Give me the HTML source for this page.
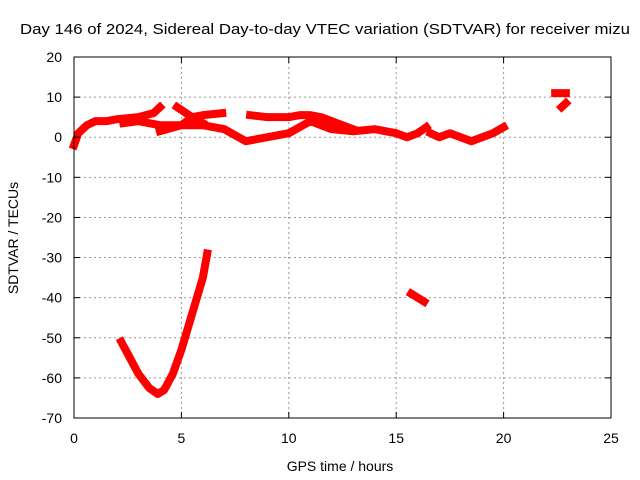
<!DOCTYPE html>
<html><head><meta charset="utf-8"><style>
body{margin:0;background:#fff}
svg{display:block;font-family:"Liberation Sans",sans-serif}
</style></head><body>
<svg id="chart" width="640" height="480">
<rect width="640" height="480" fill="#fff"/>
<g id="grid"></g>
<g id="series"></g>
<rect x="74" y="57" width="537" height="361" fill="none" stroke="#000" stroke-width="1"/>
<g id="ticks"></g>
<text x="20" y="34" textLength="610" lengthAdjust="spacingAndGlyphs" font-size="15">Day 146 of 2024, Sidereal Day-to-day VTEC variation (SDTVAR) for receiver mizu</text>
<text x="340" y="471" text-anchor="middle" font-size="14">GPS time / hours</text>
<text transform="translate(18,238) rotate(-90)" text-anchor="middle" font-size="14">SDTVAR / TECUs</text>
</svg>
<script>
const xTicks=[0,5,10,15,20,25];
const yTicks=[20,10,0,-10,-20,-30,-40,-50,-60,-70];
const seg1=[[0,-2],[0.2,1],[0.6,3],[1,4],[1.5,4],[2,4.5],[3,5],[3.7,6],[4,7.5]];
const seg2=[[2.3,3.5],[3,4],[4,3],[5,3],[6,3],[7,2],[7.5,0.5],[8,-1],[8.5,-0.5],[9,0],[10,1],[10.5,2.5],[11,4],[12,2],[13,1.5],[14,2],[15,1],[15.5,0],[16,1],[16.4,2.5]];
const seg3=[[4,1.5],[5,3],[5.5,5],[6,5.5],[6.9,6]];
const seg4=[[8.2,5.5],[9,5],[10,5],[10.5,5.5],[11,5.5],[11.5,5],[12.5,3],[13,2]];
const seg5=[[4.8,7.5],[5.5,5],[6,3.5]];
const seg6=[[16.6,1],[17,0],[17.5,1],[18,0],[18.5,-1],[19,0],[19.5,1],[20,2.5]];
const seg7=[[22.4,11],[22.9,11]];
const seg8=[[22.7,7.5],[22.9,8.5]];
const seg9=[[2.2,-51],[2.5,-54],[3,-59],[3.5,-62.5],[3.9,-64],[4.2,-63],[4.6,-59],[5,-53],[5.5,-44],[6,-35],[6.2,-29]];
const seg10=[[15.7,-39],[16.3,-41]];
const segments=[seg1,seg2,seg3,seg4,seg5,seg6,seg7,seg8,seg9,seg10];
const X=h=>74+h*537/25;
const Y=v=>57+(20-v)*361/90;
const NS='http://www.w3.org/2000/svg';
const grid=document.getElementById('grid'),ticks=document.getElementById('ticks'),ser=document.getElementById('series');
function mk(tag,attrs,parent){const e=document.createElementNS(NS,tag);for(const k in attrs)e.setAttribute(k,attrs[k]);parent.appendChild(e);return e;}
xTicks.forEach(t=>{
  if(t>0&&t<25){const g=mk('line',{x1:X(t),x2:X(t),y1:57,y2:418,stroke:'#999','stroke-dasharray':'2,3'},grid);
  
  }
  mk('line',{x1:X(t),x2:X(t),y1:418,y2:412,stroke:'#000'},ticks);
  mk('line',{x1:X(t),x2:X(t),y1:57,y2:63,stroke:'#000'},ticks);
  const l=mk('text',{x:X(t),y:443,'text-anchor':'middle','font-size':14},ticks);l.textContent=t;
  
  
});
yTicks.forEach(t=>{
  if(t<20&&t>-70){const g=mk('line',{x1:74,x2:611,y1:Y(t),y2:Y(t),stroke:'#999','stroke-dasharray':'2,3'},grid);
  
  }
  mk('line',{x1:74,x2:80,y1:Y(t),y2:Y(t),stroke:'#000'},ticks);
  mk('line',{x1:611,x2:605,y1:Y(t),y2:Y(t),stroke:'#000'},ticks);
  const l=mk('text',{x:62,y:Y(t)+5,'text-anchor':'end','font-size':14},ticks);l.textContent=t;
  
  
});
segments.forEach(s=>{
  const p=mk('polyline',{points:s.map(d=>X(d[0])+','+Y(d[1])).join(' '),fill:'none',stroke:'#ff0000','stroke-width':8,'stroke-linejoin':'round','stroke-linecap':'square'},ser);
  
  
});
</script>
</body></html>
